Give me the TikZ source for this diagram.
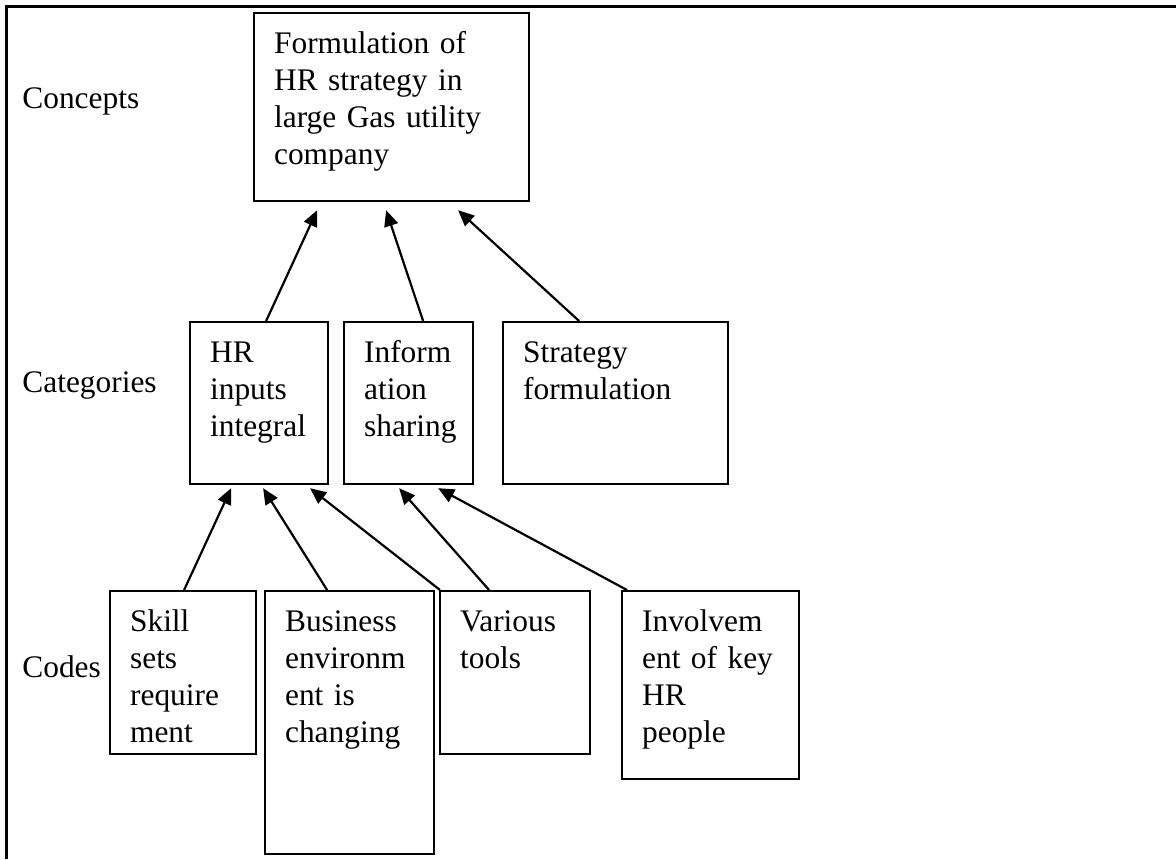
\documentclass[tikz,border=0pt]{standalone}
\usepackage{fontspec}
\setmainfont{Liberation Serif}
\usetikzlibrary{positioning,
        arrows.meta}

\begin{document}
\begin{tikzpicture}[x=0.5pt,y=0.5pt,
        every node/.style={font=\fontsize{15.7}{18.5}\selectfont},
        box/.style={draw,line width=1.1pt,anchor=north west,align=left,inner xsep=10pt,inner ysep=0pt,text height=20pt},
        lbl/.style={anchor=base west,inner sep=0pt},
        arr/.style={-{Triangle[length=8pt,width=7pt]},line width=1.1pt}]
            \useasboundingbox (0,0) rectangle (1176,-859);
            \draw [line width=1.5pt] (1176,-6) -- (6,-6) -- (6,-859);

            \node [lbl] (Concepts) at (22,-108) {Concepts};
            \node [lbl] (Categories) at (22,-392) {Categories};
            \node [lbl] (Codes) at (22,-677) {Codes};

            \node [box,text width=117.5pt,text depth=74pt] (Form) at (253,-12) {Formulation of\\HR strategy in\\large Gas utility\\company};
            \node [box,text width=49pt,text depth=61pt] (HRin) at (189,-321) {HR\\inputs\\integral};
            \node [box,text width=44.5pt,text depth=61pt] (Info) at (343,-321) {Inform\\ation\\sharing};
            \node [box,text width=92.5pt,text depth=61pt] (Strat) at (502,-321) {Strategy\\formulation};
            \node [box,text width=53pt,text depth=61.5pt] (Skill) at (109,-590) {Skill\\sets\\require\\ment};
            \node [box,text width=64.5pt,text depth=111.5pt] (Bus) at (264,-590) {Business\\environm\\ent is\\changing};
            \node [box,text width=55pt,text depth=61.5pt] (Tools) at (439,-590) {Various\\tools};
            \node [box,text width=68.5pt,text depth=74pt] (Inv) at (621,-590) {Involvem\\ent of key\\HR\\people};

            \draw [arr] ([shift={(7,0)}]HRin.north) -- ([shift={(-74.5,-8)}]Form.south);
            \draw [arr] ([shift={(14.5,0)}]Info.north) -- ([shift={(-5.5,-8)}]Form.south);
            \draw [arr] ([shift={(-36.5,0)}]Strat.north) -- ([shift={(66.5,-8)}]Form.south);
            \draw [arr] ([shift={(1,0)}]Skill.north) -- ([shift={(-28,-3)}]HRin.south);
            \draw [arr] ([shift={(-22.5,0)}]Bus.north) -- ([shift={(4,-3)}]HRin.south);
            \draw [arr] ([shift={(1,0)}]Tools.north west) -- ([shift={(51,-3)}]HRin.south);
            \draw [arr] ([shift={(-26,0)}]Tools.north) -- ([shift={(-9.5,-3)}]Info.south);
            \draw [arr] ([shift={(6,0)}]Inv.north west) -- ([shift={(29.5,-3)}]Info.south);
        \end{tikzpicture}
\end{document}
